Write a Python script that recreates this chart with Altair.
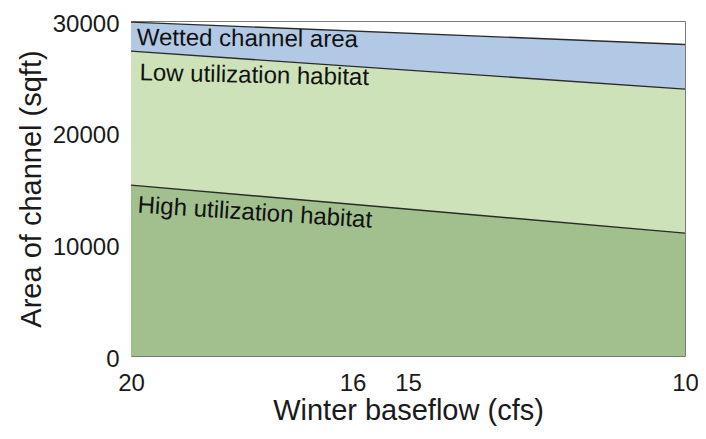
import altair as alt
import pandas as pd

# ---- data ----
flow = [20, 10]                      # winter baseflow (cfs)
wetted = [29900, 27900]              # wetted channel area (sqft)
low_util = [27300, 23900]            # low utilization habitat (sqft)
high_util = [15300, 11000]           # high utilization habitat (sqft)

series_names = ["Wetted channel area", "Low utilization habitat", "High utilization habitat"]
series_vals = [wetted, low_util, high_util]
fill_colors = ["#b1c9e5", "#cde2b9", "#a2c08e"]

x_ticks = [20, 16, 15, 10]
y_ticks = [0, 10000, 20000, 30000]

# label styling per series: dx, dy, angle
label_style = [(6, 4, 0.5), (9, 10, 1.2), (8, 8, 3.7)]

FONT = "Liberation Sans"

x_enc = alt.X(
    "flow:Q",
    scale=alt.Scale(domain=[10, 20], reverse=True, nice=False, zero=False),
    axis=alt.Axis(values=x_ticks, format="d", title="Winter baseflow (cfs)"),
)
y_enc = alt.Y(
    "value:Q",
    scale=alt.Scale(domain=[0, 30000], nice=False),
    axis=alt.Axis(values=y_ticks, format="d", title="Area of channel (sqft)"),
    stack=None,
)

layers = []
for name, vals, col in zip(series_names, series_vals, fill_colors):
    df = pd.DataFrame({"flow": flow, "value": vals, "series": name})
    layers.append(
        alt.Chart(df).mark_area(
            color=col, opacity=1,
            line={"color": "#2a2a2a", "strokeWidth": 1.4},
        ).encode(x=x_enc, y=y_enc)
    )

for name, vals, (dx, dy, ang) in zip(series_names, series_vals, label_style):
    ldf = pd.DataFrame({"flow": [flow[0]], "value": [vals[0]], "label": [name]})
    layers.append(
        alt.Chart(ldf).mark_text(
            align="left", baseline="top", dx=dx, dy=dy, angle=ang,
            fontSize=24, font=FONT, color="#111111",
        ).encode(x=x_enc, y=y_enc, text="label:N")
    )

chart = alt.layer(*layers).properties(
    width=554,
    height=335,
    autosize=alt.AutoSizeParams(type="none"),
    padding={"left": 123, "top": 13, "right": 13, "bottom": 75},
    background="white",
).configure_view(
    stroke="#7a7a7a", strokeWidth=1
).configure_axis(
    grid=False, ticks=False, domain=False,
    labelFont=FONT, titleFont=FONT,
    labelFontSize=24, titleFontSize=29,
    titleFontWeight="normal",
    labelColor="#1a1a1a", titleColor="#1a1a1a",
).configure_axisX(
    labelPadding=15, titlePadding=1, labelFlush=False,
).configure_axisY(
    labelPadding=12, titlePadding=6, labelOffset=3,
)

chart.save("out.html", embed_options={"renderer": "svg", "actions": False})
